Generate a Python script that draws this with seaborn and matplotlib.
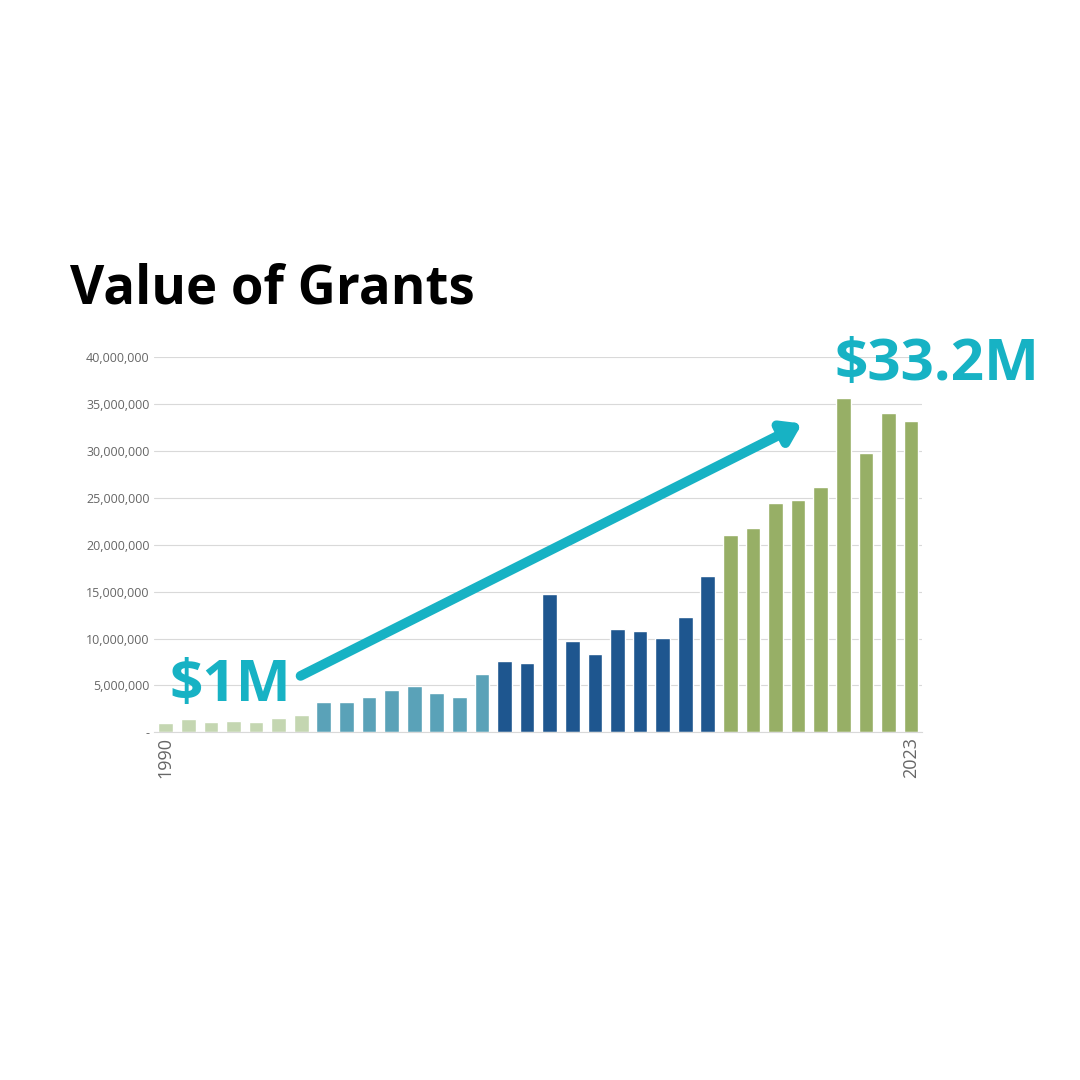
import matplotlib
matplotlib.use("Agg")
import matplotlib.pyplot as plt
import matplotlib.ticker as mticker
import seaborn as sns

# === Data ===
years = list(range(1990, 2024))
grants = [1.0, 1.4, 1.1, 1.2, 1.1, 1.5, 1.8,
          3.2, 3.2, 3.8, 4.5, 4.9, 4.2, 3.8, 6.2,
          7.6, 7.4, 14.8, 9.7, 8.3, 11.0, 10.8, 10.1, 12.3, 16.7,
          21.1, 21.8, 24.5, 24.8, 26.2, 35.7, 29.8, 34.1, 33.2]
grants = [g * 1e6 for g in grants]
tick_labels = ["1990"] + [""] * 32 + ["2023"]

colors = (["#c4dcab"] * 7 + ["#4aabc8"] * 8 + ["#0b56a2"] * 10 + ["#9bbb5a"] * 9)
teal = "#17b2c4"

sns.set_style("white")
plt.rcParams['font.family'] = ['Open Sans', 'DejaVu Sans']

fig = plt.figure(figsize=(10.8, 10.8), dpi=100)
ax = fig.add_axes([0.143, 0.322, 0.711, 0.347])

x = [str(y) for y in years]
sns.barplot(x=x, y=grants, hue=x, palette=colors, legend=False, width=0.65, ax=ax)

ax.set_ylim(0, 40e6)
ax.set_yticks(range(0, 40_000_001, 5_000_000))
ax.yaxis.set_major_formatter(mticker.FuncFormatter(lambda v, p: "-" if v == 0 else f"{int(v):,}"))
ax.grid(axis="y", color="#d9d9d9", linewidth=0.8)
ax.set_axisbelow(True)
ax.set_xticks(range(len(x)))
ax.set_xticklabels(tick_labels, rotation=90, fontsize=13, color="#666666")
ax.tick_params(axis="y", labelsize=9, colors="#666666", length=0)
ax.tick_params(axis="x", length=0)
for s in ["top", "right", "left"]:
    ax.spines[s].set_visible(False)
ax.spines["bottom"].set_color("#d9d9d9")

fig.text(0.065, 0.732, "Value of Grants", fontsize=38, fontweight="bold", color="black",
         va="center", ha="left")
fig.text(0.157, 0.365, "$1M", fontsize=42, fontweight="bold", color=teal, va="center", ha="left")
fig.text(0.773, 0.662, "$33.2M", fontsize=42, fontweight="bold", color=teal, va="center", ha="left")

fig.patches.append(matplotlib.patches.FancyArrowPatch(
    (0.276, 0.373), (0.745, 0.609), transform=fig.transFigure,
    arrowstyle="-|>,head_length=0.9,head_width=0.6", color=teal, linewidth=7,
    mutation_scale=12))

fig.savefig("out.png", dpi=100, facecolor="white")
